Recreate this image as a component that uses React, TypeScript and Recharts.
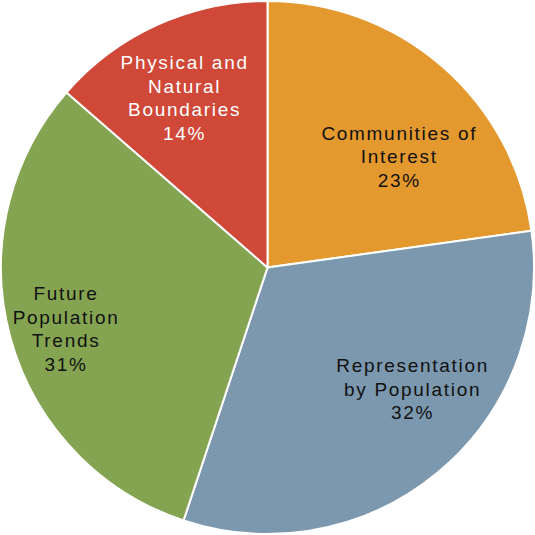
import { PieChart, Pie, Cell } from 'recharts';

// slice data, clockwise from 12 o'clock (shares in %, labels show rounded values)
const categories = [
  'Communities of Interest',
  'Representation by Population',
  'Future Population Trends',
  'Physical and Natural Boundaries',
];
const shares = [22.8, 32.3, 31.3, 13.6];
const labelLines = [
  ['Communities of', 'Interest'],
  ['Representation', 'by Population'],
  ['Future', 'Population', 'Trends'],
  ['Physical and', 'Natural', 'Boundaries'],
];

const colors = ['#E4992F', '#7B98AE', '#84A452', '#CF4838'];
const textColors = ['#111', '#111', '#111', '#fff'];
// label placement tweaks: angle offset (deg) and radius fraction
const labelPlace = [
  { da: -8.8, rf: 0.647 },
  { da: 10.3, rf: 0.71 },
  { da: 1.6, rf: 0.79 },
  { da: 1.5, rf: 0.71 },
];

const data = categories.map((name, i) => ({ name, value: shares[i] }));

const RAD = Math.PI / 180;
const LINE_H = 23.5;

const renderLabel = (props: any) => {
  const { cx, cy, midAngle, outerRadius, index, value } = props;
  const place = labelPlace[index];
  const a = (midAngle + place.da) * RAD;
  const r = outerRadius * place.rf;
  const x = cx + r * Math.cos(a);
  const y = cy - r * Math.sin(a);
  const lines = [...labelLines[index], `${Math.round(value)}%`];
  const top = y - ((lines.length - 1) * LINE_H) / 2;
  return (
    <text
      key={`lbl-${index}`}
      x={x}
      y={top}
      fill={textColors[index]}
      textAnchor="middle"
      dominantBaseline="central"
      fontSize={19}
      letterSpacing={1.7}
      fontFamily="'Liberation Sans', Arial, sans-serif"
    >
      {lines.map((line, i) => (
        <tspan key={i} x={x} y={top + i * LINE_H} dominantBaseline="central">
          {line}
        </tspan>
      ))}
    </text>
  );
};

export default function App() {
  return (
    <div style={{ position: 'absolute', left: 0, top: 0, width: 535, height: 535, background: '#fff' }}>
      <PieChart width={535} height={535} margin={{ top: 0, right: 0, bottom: 0, left: 0 }}>
        <Pie
          data={data}
          dataKey="value"
          nameKey="name"
          cx={267.5}
          cy={267.5}
          outerRadius={266.5}
          startAngle={90}
          endAngle={-270}
          stroke="#fff"
          strokeWidth={2}
          label={renderLabel}
          labelLine={false}
          isAnimationActive={false}
        >
          {data.map((entry, index) => (
            <Cell key={`cell-${index}`} fill={colors[index]} />
          ))}
        </Pie>
      </PieChart>
    </div>
  );
}
